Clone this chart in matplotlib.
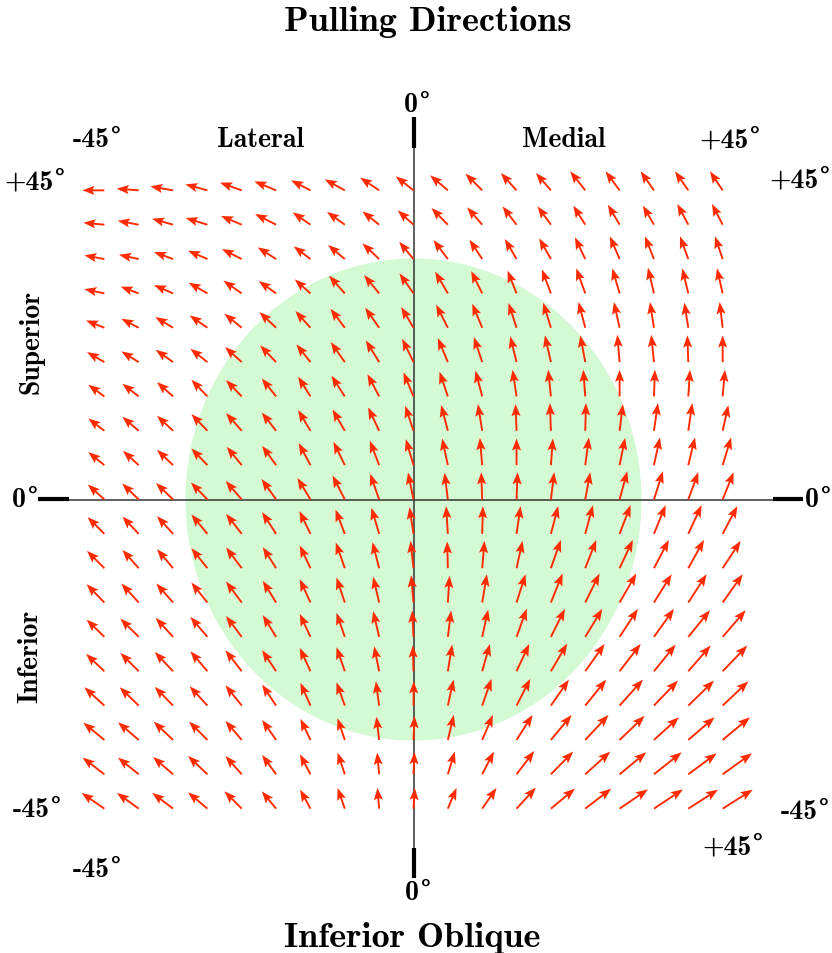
import numpy as np
import matplotlib
matplotlib.use("Agg")
import matplotlib.pyplot as plt
from matplotlib.patches import Ellipse

# grid of eye positions (degrees), 19 x 19
xs = np.arange(-45, 46, 5)
ys = np.arange(45, -46, -5)

# arrow components (screen pixels, dy up), rows top -> bottom
dx = [
    [-22, -22, -22.7, -22, -21.7, -21.7, -19.3, -20, -19, -17.7, -17.7, -16.7, -15.7, -15, -15, -14, -13.3, -13.3, -12.7],
    [-21, -21, -21, -21.7, -20.7, -21, -17.7, -17.7, -16.7, -15.7, -16.3, -15, -14, -13.3, -12, -11.7, -11, -11, -10.7],
    [-20, -19.7, -19, -19.3, -19.7, -18.3, -16.7, -16.7, -16.7, -14.3, -14.3, -12.7, -11.7, -11.7, -10.3, -9.7, -9, -8.3, -7.7],
    [-20, -18, -19, -18.7, -18.3, -17.3, -15.7, -15.7, -15, -14, -12.7, -11, -9, -9, -9, -7.3, -6, -6, -5.7],
    [-18.3, -17.3, -17.7, -17.7, -17.3, -16.7, -15, -14.3, -14, -12.3, -11.7, -10, -8, -7.7, -6.7, -5.7, -4, -4, -3],
    [-17.3, -17.3, -17.3, -17, -16.7, -16, -14, -14, -13.3, -11.3, -10, -8.3, -6.3, -6, -5, -2.3, -2.7, -1, 0],
    [-16, -16.3, -16, -16, -15.7, -14.3, -12.3, -13.3, -11.7, -10, -8.3, -6.7, -4, -2.7, -2, 0, 1, 1.7, 2.3],
    [-16, -16.3, -16, -16, -15.7, -14.3, -12.3, -12.3, -11, -8.3, -6.7, -4.3, -1, -1, 0.7, 3.3, 4, 4, 5.7],
    [-16, -15.7, -16, -16, -15, -14, -11.7, -11.3, -9.3, -7.7, -5.7, -2.3, 0, 2, 3.7, 5.5, 6, 6.7, 8.5],
    [-16.5, -16.5, -17, -16.5, -16, -14.5, -13, -12.3, -9, -5.5, -3.3, -1, 1, 3.3, 5, 7.7, 9, 10, 11],
    [-16.7, -16.3, -16, -16, -15.7, -14, -11, -9.3, -7.7, -4, -1.7, 0.7, 4, 7.3, 7.7, 11, 11.7, 13.3, 14.7],
    [-17.3, -16.3, -16, -16, -15.7, -13.3, -10.7, -9, -6.7, -3, -0.7, 2.3, 6, 10, 11, 13.3, 15, 15.7, 18],
    [-17.7, -17.3, -16.7, -16, -15.7, -13.3, -10.7, -8.3, -6, -2.3, 1.7, 4.7, 9, 11.7, 14.3, 16.7, 17.7, 18.3, 20],
    [-17.7, -18.3, -17.3, -17, -15.7, -13.3, -10.7, -8.3, -6, -1.3, 3.3, 6, 10.3, 14, 17, 18.3, 20, 21.7, 23],
    [-18.3, -18.3, -18.3, -17, -16.3, -14, -10.7, -8.3, -5, -0.7, 4.3, 7.7, 12.7, 16.3, 19.3, 21, 21.7, 22.3, 24.7],
    [-20, -19, -18.3, -17.7, -16.3, -14, -10, -8.3, -3.3, 0.3, 5.7, 9.3, 13.7, 18, 21, 23.3, 24, 25.7, 25.7],
    [-21, -20.7, -19.3, -18.3, -16.3, -14, -10, -7.3, -2.7, 1, 6, 10.7, 16, 20.7, 23.3, 25, 25, 26.3, 27.3],
    [-21.7, -20.7, -20, -19.3, -16.3, -14, -10.5, -7.2, -2, 1, 7, 11.7, 17.7, 22.3, 25, 26.7, 27.7, 28.3, 29.3],
    [-22.7, -21.7, -20.7, -19.3, -17.3, -14.3, -10.3, -7.2, -1.7, 1.3, 8.7, 14.3, 19.3, 24, 26, 28.3, 29, 29.7, 30],
]
dy = [
    [0, 1.7, 4, 6, 7.7, 9, 10, 11, 12.7, 14, 15, 16.7, 17.3, 17.3, 19, 19, 19, 19, 19],
    [2, 4, 6, 6.7, 8.7, 10.7, 12.3, 12.7, 13.3, 14.3, 16.7, 17.3, 18.3, 18.3, 19, 20, 19, 20.7, 20.7],
    [3.7, 4.3, 7, 8.3, 10, 11.7, 12.7, 14, 15.7, 17.3, 19, 19.3, 20, 20.7, 21.7, 22.7, 22.7, 22.7, 22.7],
    [4.3, 6.7, 8.3, 10.7, 12.7, 12.3, 14, 17.7, 18.3, 20, 21.7, 22.3, 22.7, 24, 25, 25, 25.7, 25, 25],
    [7.3, 9, 10.7, 12.3, 14, 15.7, 16.7, 19, 20, 20.7, 23, 24, 24.7, 25, 25.7, 25.7, 25.7, 25, 25.7],
    [10, 10.7, 12.3, 13.3, 15, 16.7, 17.7, 20, 21.7, 23.3, 24, 25, 25.7, 26.7, 26.7, 27.3, 27.3, 26.7, 26.7],
    [11.7, 12.7, 14.3, 16.7, 16.3, 18, 19.7, 20.7, 22.3, 24, 24.7, 25.7, 26.7, 26.7, 26.7, 26.7, 26.7, 26.7, 26.7],
    [12.3, 14, 15, 16.7, 17.7, 18.3, 20.7, 21.3, 23.3, 25, 25.7, 26.7, 26.7, 27.7, 27.7, 26.7, 27.7, 27.7, 25.7],
    [13, 14.3, 15.3, 16.7, 18.3, 19.3, 22, 23.3, 24.3, 26, 26.7, 27.3, 26.7, 26.7, 27.7, 27.3, 27.7, 27.7, 27.7],
    [15, 16, 16.5, 17, 18.5, 20.5, 21.5, 24, 25.7, 27, 26.7, 27.3, 27.3, 27.3, 27.3, 28.3, 28.3, 27.3, 27.3],
    [16.7, 17.3, 17.7, 19.3, 20, 21.7, 22.7, 24.3, 26, 26.7, 27.7, 27.7, 27.7, 27.7, 28.7, 28.7, 28.7, 28.7, 27.7],
    [17.3, 18.3, 19, 20, 20.7, 21, 22.7, 25.7, 26, 27.3, 26.7, 27.3, 27.3, 28.3, 28.3, 28.3, 28.3, 28.3, 27.3],
    [18.3, 19, 19, 20, 21, 21.7, 23.3, 25, 25.7, 27.3, 26.7, 28.3, 28.3, 29, 29, 29, 28.3, 28.3, 28.3],
    [17.3, 18.3, 19, 20, 20.7, 21.7, 23, 24, 25.7, 26.3, 26.3, 27.3, 28.3, 28, 28, 28, 28, 26.7, 26.7],
    [17.3, 18.3, 19.3, 20, 21, 21, 23.3, 24, 25, 25.7, 26.7, 27.3, 27.3, 27.7, 27.3, 27.3, 26.7, 25.7, 25.7],
    [18.3, 18.3, 18.7, 19.3, 20.3, 21, 22.7, 23.3, 24.3, 24.3, 26, 26.7, 26.7, 26, 26, 26, 25, 25, 24.3],
    [17.3, 17.7, 18.3, 18.3, 19, 20, 21, 21.7, 23.3, 24, 25, 25, 25, 25, 25, 24, 22.7, 22.7, 22.7],
    [16.7, 16.7, 17.3, 18.3, 18.3, 19.3, 20, 21.7, 21.7, 22.2, 22.7, 22.7, 23.3, 22.7, 22.7, 22, 22, 21, 21],
    [15.7, 15.7, 15.7, 16.3, 17.3, 17.3, 19, 20.7, 20.7, 20.7, 20.7, 20.7, 21, 20, 20, 19.3, 19.3, 19, 19],
]

# page geometry (pixels)
W, H = 832, 954
CX, CY = 413.5, 500.5
PPD = 6.87  # pixels per degree


def p(x, y):
    return (x - CX) / PPD, (CY - y) / PPD


fig = plt.figure(figsize=(W / 100, H / 100), dpi=100)
ax = fig.add_axes([0, 0, 1, 1])
ax.set_xlim(p(0, 0)[0], p(W, 0)[0])
ax.set_ylim(p(0, H)[1], p(0, 0)[1])
ax.axis("off")

# field of view ellipse
ax.add_patch(Ellipse((0, 0), 456 / PPD, 482 / PPD, color="#d4fad4", lw=0, zorder=0))

# axes through the centre
ax.plot([p(69, 0)[0], p(773, 0)[0]], [0, 0], color="#333333", lw=1.1, zorder=1)
ax.plot([0, 0], [p(0, 149)[1], p(0, 850)[1]], color="#333333", lw=1.1, zorder=1)
for a, b in [((38, 500), (69, 500)), ((773, 500), (803, 500)),
             ((413.5, 118), (413.5, 149)), ((413.5, 849), (413.5, 879))]:
    (x1, y1), (x2, y2) = p(*a), p(*b)
    ax.plot([x1, x2], [y1, y2], color="black", lw=3, solid_capstyle="butt", zorder=1)

X, Y = np.meshgrid(xs, ys)
ax.quiver(X, Y, np.array(dx), np.array(dy), color="#ff2a00",
          angles="xy", scale_units="xy", scale=PPD, pivot="tail",
          units="dots", width=1.9, headwidth=4.8, headlength=6.4,
          headaxislength=5.4, zorder=3)

FONT = "cmb10"


def label(x, y, s, size=20, rot=0):
    ax.text(*p(x, y), s, ha="center", va="center", fontsize=size,
            family=FONT, rotation=rot)


def deg(x, y, s, size=20):
    # digits in cmb10, the degree sign from DejaVu Serif (cmb10 has none)
    t = ax.text(*p(x - 6, y), s, ha="center", va="center", fontsize=size, family=FONT)
    ax.annotate("°", xy=(1, 1), xycoords=t, xytext=(0.5, 1.5),
                textcoords="offset points", ha="left", va="top",
                fontsize=size * 0.85, family="DejaVu Serif", weight="bold")


label(428, 22, "Pulling Directions", 26)
label(412, 938, "Inferior Oblique", 26)

deg(417, 105, "0")
deg(418, 893, "0")
deg(25, 500, "0")
deg(818, 500, "0")

deg(97, 140, "-45")
label(261, 140, "Lateral")
label(564, 140, "Medial")
deg(730, 140, "+45")
deg(35, 182, "+45")
deg(800, 180, "+45")
label(32, 342, "Superior", rot=90)
label(30, 656, "Inferior", rot=90)
deg(37, 810, "-45")
deg(805, 812, "-45")
deg(97, 870, "-45")
deg(733, 847, "+45")

fig.savefig("out.png", dpi=100)
